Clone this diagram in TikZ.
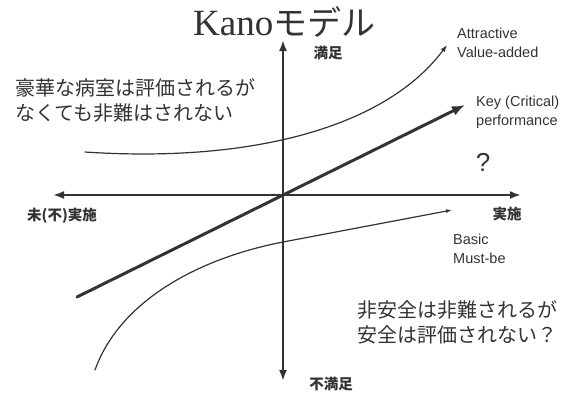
\documentclass[tikz,border=0pt]{standalone}
\usepackage{fontspec}
\setmainfont{Liberation Sans}
\newfontfamily\jp{Noto Sans CJK JP}
\newfontfamily\titleserif{Liberation Serif}
\usetikzlibrary{arrows.meta,positioning}
\definecolor{ink}{gray}{0.2}

\begin{document}
\begin{tikzpicture}[x=1pt,y=-1pt,ink,
  axis/.style={line width=2pt,<->,>={Latex[length=11pt,width=8pt]}},
  curve/.style={line width=1.2pt,line cap=round,->,>={Latex[length=7pt,width=5pt]}},
  key/.style={line width=3pt,line cap=round,->,>={Latex[length=13pt,width=10pt]}},
  jptext/.style={font=\jp\fontsize{20}{25}\selectfont,align=left,inner sep=0pt},
  axlabel/.style={font=\jp\bfseries\fontsize{14.5}{16}\selectfont,inner sep=0pt},
  entext/.style={font=\fontsize{14.5}{19}\selectfont,align=left,inner sep=0pt}]
\useasboundingbox (0,0) rectangle (584,392);
\coordinate (west) at (53,195);
\coordinate (east) at (521,195);
\coordinate (north) at (283,40);
\coordinate (south) at (283,381);
\coordinate (a0) at (85,152);
\coordinate (a1) at (447,45);
\coordinate (k0) at (77,297);
\coordinate (k1) at (465,105);
\coordinate (b0) at (95,370);
\coordinate (b1) at (283,242);
\coordinate (b2) at (452,210);
\node[anchor=base west,inner sep=0pt] (title) at (193,35) {\titleserif\fontsize{37}{40}\selectfont Kano\jp\fontsize{34}{40}\selectfont モデル};
\node[axlabel] (sat) at (328,53) {満足};
\node[axlabel] (dissat) at (331,384) {不満足};
\node[axlabel] (done) at (507,214) {実施};
\node[axlabel] (notdone) at (62,216) {未(不)実施};
\node[entext,anchor=west] (attr) at (457,43) {Attractive\\Value-added};
\node[entext,anchor=west] (keyl) at (476,112) {Key (Critical)\\performance};
\node[entext,anchor=west] (basic) at (453,249) {Basic\\Must-be};
\node[font=\fontsize{26}{30}\selectfont,inner sep=0pt] (q) at (483,162) {?};
\node[jptext,anchor=west] (lux) at (15,100) {豪華な病室は評価されるが\\なくても非難はされない};
\node[jptext,anchor=west] (safe) at (357,322) {非安全は非難されるが\\安全は評価されない？};
\draw[axis] (west) -- (east);
\draw[axis] (south) -- (north);
\draw[curve] (a0) .. controls (250,163) and (385,128) .. (a1);
\draw[key] (k0) -- (k1);
\draw[curve,>={Latex[length=6pt,width=4pt]}] (b0) .. controls (120,300) and (200,258) .. (b1) -- (b2);
\end{tikzpicture}
\end{document}
